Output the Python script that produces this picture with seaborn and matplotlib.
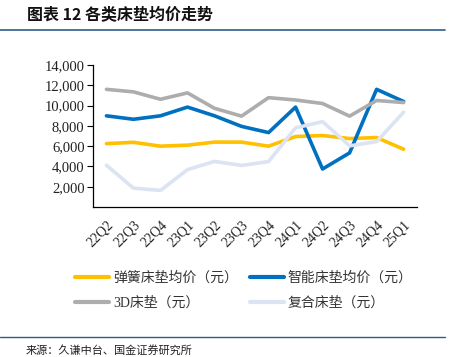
import numpy as np
import pandas as pd
import seaborn as sns
import matplotlib.pyplot as plt
from matplotlib.lines import Line2D

quarters = ['22Q2', '22Q3', '22Q4', '23Q1', '23Q2', '23Q3', '23Q4',
            '24Q1', '24Q2', '24Q3', '24Q4', '25Q1']
spring = [6250, 6380, 6000, 6100, 6400, 6400, 6000, 6950, 7050, 6750, 6850, 5700]
smart = [8990, 8650, 8990, 9850, 8990, 7950, 7340, 9850, 3750, 5340, 11600, 10400]
bed3d = [11600, 11350, 10620, 11250, 9730, 8960, 10780, 10550, 10200, 8960, 10500, 10300]
combo = [4120, 1860, 1640, 3690, 4500, 4100, 4480, 7800, 8420, 6030, 6450, 9350]

series_names = ['弹簧床垫均价（元）', '智能床垫均价（元）', '3D床垫（元）', '复合床垫（元）']
colors = ['#FFC000', '#0070C0', '#ADADAD', '#DCE3F2']

sns.set_style('white')
plt.rcParams['font.family'] = ['Liberation Serif', 'Noto Sans CJK SC']

df = pd.DataFrame({'x': np.tile(np.arange(len(quarters)), 4),
                   'val': spring + smart + bed3d + combo,
                   'series': np.repeat(series_names, len(quarters))})

fig = plt.figure(figsize=(4.49, 3.57), dpi=100)
ax = fig.add_axes([0.207, 0.420, 0.722, 0.398])
sns.lineplot(data=df, x='x', y='val', hue='series', hue_order=series_names,
             palette=colors, linewidth=2.6, ax=ax, legend=False, sort=False)

ax.set_xlim(-0.5, len(quarters) - 0.5)
ax.set_ylim(0, 14000)
ax.set_yticks(range(2000, 14001, 2000))
ax.set_yticklabels([f'{v:,}' for v in range(2000, 14001, 2000)], fontsize=10.5,
                   color='#222222')
ax.set_xticks(np.arange(len(quarters)))
ax.set_xticklabels(quarters, rotation=45, ha='right', rotation_mode='anchor',
                   fontsize=10, color='#222222')
ax.tick_params(axis='x', which='major', length=0, pad=8)
ax.set_xticks(np.arange(-0.5, len(quarters)), minor=True)
ax.tick_params(axis='x', which='minor', length=4, width=0.8, direction='out', color='black')
ax.tick_params(axis='y', length=4, width=0.8, direction='out', color='black', left=True, pad=2)
ax.set_xlabel('')
ax.set_ylabel('')
for s in ['top', 'right']:
    ax.spines[s].set_visible(False)
for s in ['left', 'bottom']:
    ax.spines[s].set_color('black')
    ax.spines[s].set_linewidth(0.9)

# legend fills column by column, so order gives rows: spring/smart, 3D/combo
order = [0, 2, 1, 3]
handles = [Line2D([], [], color=colors[i], linewidth=3) for i in order]
fig.legend(handles, [series_names[i] for i in order], loc='upper left',
           bbox_to_anchor=(0.14, 0.275), ncol=2, frameon=False, fontsize=10,
           handlelength=2.4, handletextpad=0.3, columnspacing=0.9,
           labelspacing=0.85, labelcolor='#333333')

# title, rules and source note
fig.text(0.06, 0.957, '图表 12 各类床垫均价走势', fontsize=11.5, fontweight='bold',
         color='#111111', va='center', family=['Noto Sans CJK SC'])
fig.add_artist(Line2D([0, 0.99], [0.916, 0.916], color='#2E5C8A', linewidth=1.2))
fig.add_artist(Line2D([0, 0.99], [0.057, 0.057], color='#2E5C8A', linewidth=1.0))
fig.text(0.057, 0.020, '来源：久谦中台、国金证券研究所', fontsize=8, color='#222222',
         va='center', family=['Noto Sans CJK SC'])

fig.savefig('out.png', dpi=100)
